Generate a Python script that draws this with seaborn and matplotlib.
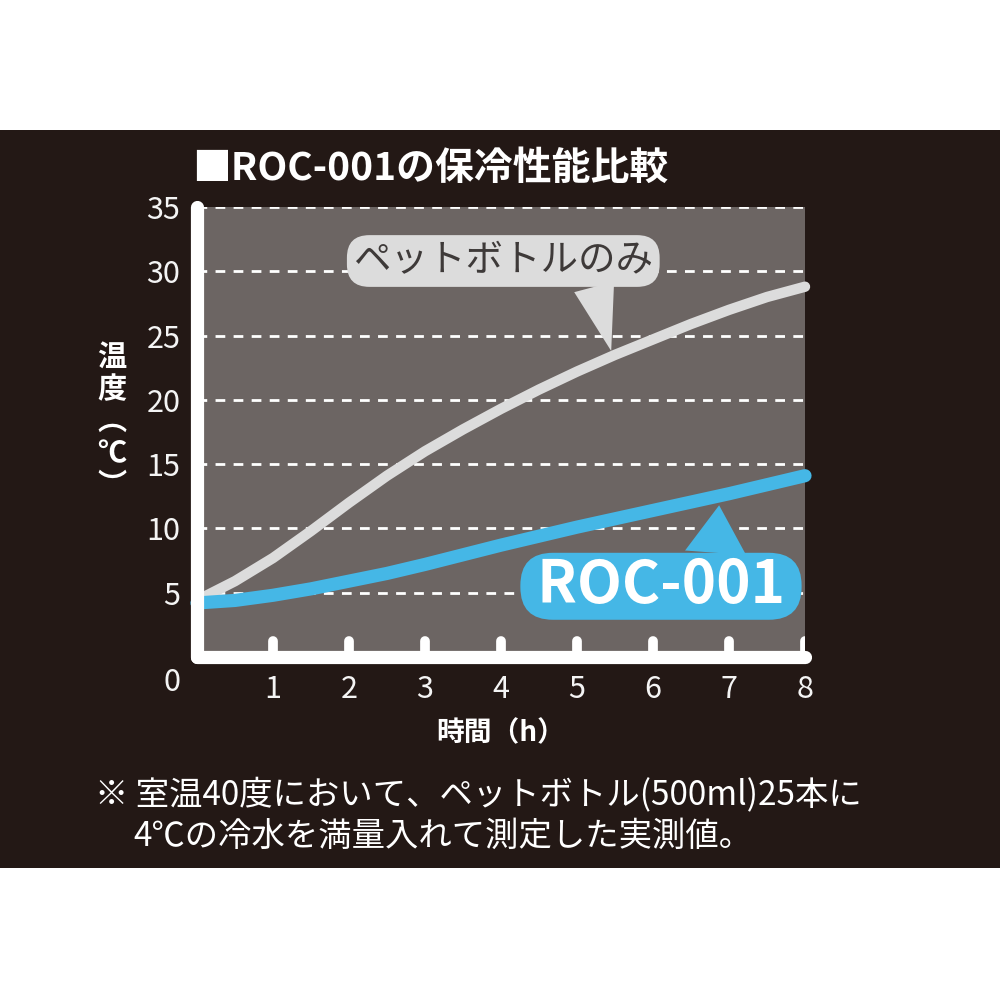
import numpy as np
import matplotlib
matplotlib.use("Agg")
import matplotlib.pyplot as plt
from matplotlib.patches import Rectangle
import seaborn as sns

# data (temperature in deg C vs hours)
hours = [0, 0.5, 1, 1.5, 2, 2.5, 3, 3.5, 4, 4.5, 5, 5.5, 6, 6.5, 7, 7.5, 8]
pet_only = [4.4, 5.9, 7.7, 9.8, 12.0, 14.1, 16.0, 17.7, 19.3, 20.8, 22.2, 23.5,
            24.7, 25.9, 27.0, 28.0, 28.8]
roc_001 = [4.2, 4.4, 4.8, 5.3, 5.9, 6.5, 7.2, 7.95, 8.7, 9.4, 10.1, 10.75,
           11.4, 12.05, 12.7, 13.4, 14.1]
x_ticks = [1, 2, 3, 4, 5, 6, 7, 8]
y_ticks = [5, 10, 15, 20, 25, 30, 35]

title = "■ROC-001の保冷性能比較"
ylabel = "温\n度\n︵\n℃\n︶"
xlabel = "時間（h）"
note1 = "※ 室温40度において、ペットボトル(500ml)25本に"
note2 = "4℃の冷水を満量入れて測定した実測値。"

DARK = "#231815"
PANEL = "#6c6563"
BLUE = "#45b7e6"
LIGHT = "#dcdcdc"

sns.set_style("dark")
plt.rcParams['font.family'] = ['Noto Sans CJK JP', 'DejaVu Sans']

fig = plt.figure(figsize=(10, 10), dpi=100, facecolor="white")
fig.patches.append(Rectangle((0, 0.132), 1, 0.738, transform=fig.transFigure,
                             facecolor=DARK, edgecolor="none", zorder=-10))

ax = fig.add_axes([0.197, 0.343, 0.608, 0.450])
ax.set_zorder(1)
ax.set_facecolor(PANEL)
ax.set_xlim(0, 8)
ax.set_ylim(0, 35)

# grid
ax.set_yticks(y_ticks)
ax.set_xticks(x_ticks)
ax.grid(False)
ax.grid(axis="y", color="white", linestyle=(0, (3.5, 3)), linewidth=2)
ax.set_axisbelow(True)

# curves
sns.lineplot(x=hours, y=pet_only, color=LIGHT, linewidth=7.5, ax=ax,
             solid_capstyle="round", solid_joinstyle="round",
             clip_on=False, zorder=3)
sns.lineplot(x=hours, y=roc_001, color=BLUE, linewidth=9.5, ax=ax,
             solid_capstyle="round", solid_joinstyle="round",
             clip_on=False, zorder=3)

# spines
for side in ["top", "right"]:
    ax.spines[side].set_visible(False)
for side in ["left", "bottom"]:
    sp = ax.spines[side]
    sp.set_visible(True)
    sp.set_color("white")
    sp.set_linewidth(9.5)
    sp.set_capstyle("round")
    sp.set_zorder(5)

# tick marks as rounded stubs
vl = ax.vlines(x_ticks, 0, 1.25, color="white", linewidth=7, zorder=4)
vl.set_capstyle("round")

ax.tick_params(length=0, pad=12, labelsize=22, labelcolor="#f4f4f4")
ax.text(-0.33, -2.0, "0", fontsize=22, color="#f4f4f4", ha="center",
        va="center", clip_on=False)
ax.set_xlabel("")
ax.set_ylabel("")

# callouts
ax.annotate("ペットボトルのみ", xy=(5.45, 23.8), xytext=(4.03, 30.8),
            fontsize=27, color="#3e3a39", ha="center", va="center", zorder=6,
            bbox=dict(boxstyle="round,pad=0.17,rounding_size=0.6",
                      fc=LIGHT, ec="none"),
            arrowprops=dict(arrowstyle="wedge,tail_width=1.1", fc=LIGHT,
                            ec="none", shrinkA=0, shrinkB=0, relpos=(0.78, 0.5)))
ax.annotate(" ROC-001 ", xy=(6.87, 11.8), xytext=(6.105, 5.5),
            fontsize=42, fontweight="bold", color="white", ha="center",
            va="center", zorder=6,
            bbox=dict(boxstyle="round,pad=0.06,rounding_size=0.56",
                      fc=BLUE, ec="none"),
            arrowprops=dict(arrowstyle="wedge,tail_width=1.05", fc=BLUE,
                            ec="none", shrinkA=0, shrinkB=0, relpos=(0.69, 0.5)))

# texts
fig.text(0.192, 1 - 0.168, title, fontsize=28, fontweight="bold",
         color="white", ha="left", va="center")
fig.text(0.112, 1 - 0.421, ylabel, fontsize=21, fontweight="bold",
         color="white", ha="center", va="center", linespacing=1.08)
fig.text(0.501, 1 - 0.733, xlabel, fontsize=20, fontweight="bold",
         color="white", ha="center", va="center")
fig.text(0.095, 1 - 0.795, note1, fontsize=24, color="white",
         ha="left", va="center")
fig.text(0.133, 1 - 0.836, note2, fontsize=24, color="white",
         ha="left", va="center")

fig.savefig("out.png", dpi=100, facecolor="white")
